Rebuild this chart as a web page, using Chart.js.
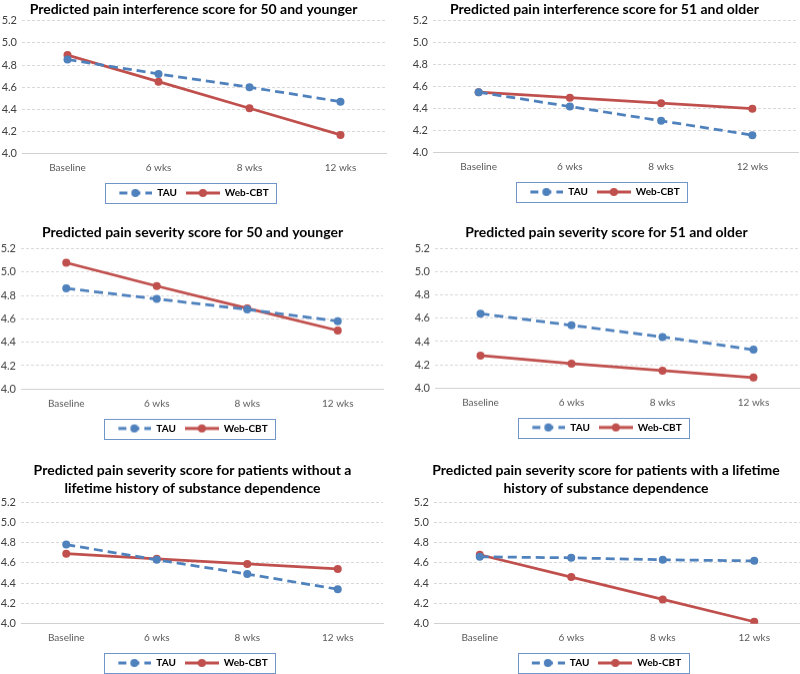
<!doctype html>
<html lang="en">
  <head>
    <title>Predicted pain scores</title>
    <meta charset="UTF-8" />
    <script src="https://cdn.jsdelivr.net/npm/chart.js"></script>
    <style>
      html,
      body {
        margin: 0;
        padding: 0;
        background: #fff;
        width: 800px;
        height: 674px;
        overflow: hidden;
        position: relative;
      }
      .panel {
        position: absolute;
      }
    </style>
  </head>
  <body>
    <div class="panel" style="left: 0px; top: 0px; width: 390px; height: 208px"><canvas id="c1"></canvas></div>
    <div class="panel" style="left: 411px; top: 0px; width: 392px; height: 207px"><canvas id="c2"></canvas></div>
    <div class="panel" style="left: -1.5px; top: 223px; width: 388px; height: 219.5px"><canvas id="c3"></canvas></div>
    <div class="panel" style="left: 413px; top: 223px; width: 390px; height: 218.5px"><canvas id="c4"></canvas></div>
    <div class="panel" style="left: -1.5px; top: 461px; width: 388px; height: 217px"><canvas id="c5"></canvas></div>
    <div class="panel" style="left: 412px; top: 461px; width: 392px; height: 217px"><canvas id="c6"></canvas></div>

    <script>
      // timepoints shared by all six panels
      const weeks = ['Baseline', '6 wks', '8 wks', '12 wks']
      const yTicks = [4.0, 4.2, 4.4, 4.6, 4.8, 5.0, 5.2]

      // values
      const tauInterfYoung = [4.85, 4.72, 4.6, 4.47]
      const webInterfYoung = [4.89, 4.65, 4.41, 4.17]
      const tauInterfOld = [4.55, 4.42, 4.29, 4.16]
      const webInterfOld = [4.55, 4.5, 4.45, 4.4]
      const tauSevYoung = [4.86, 4.77, 4.68, 4.58]
      const webSevYoung = [5.08, 4.88, 4.69, 4.5]
      const tauSevOld = [4.64, 4.54, 4.44, 4.33]
      const webSevOld = [4.28, 4.21, 4.15, 4.09]
      const tauNoHistory = [4.78, 4.63, 4.49, 4.34]
      const webNoHistory = [4.69, 4.64, 4.59, 4.54]
      const tauHistory = [4.66, 4.65, 4.63, 4.62]
      const webHistory = [4.68, 4.46, 4.24, 4.02]

      const blue = '#4f81bd'
      const red = '#c0504d'
      const fontFamily = 'Lato, "Open Sans", sans-serif'

      // little line + dot picture for the legend, like Excel does it
      function legendSwatch(color, dashed) {
        const c = document.createElement('canvas')
        c.width = 34
        c.height = 10
        const g = c.getContext('2d')
        g.strokeStyle = color
        g.lineWidth = 3
        if (dashed) g.setLineDash([8, 5])
        g.beginPath()
        g.moveTo(dashed ? 1 : 0, 5)
        g.lineTo(34, 5)
        g.stroke()
        g.setLineDash([])
        g.fillStyle = color
        g.beginPath()
        g.arc(17, 5, 4, 0, Math.PI * 2)
        g.fill()
        return c
      }
      const swatches = [legendSwatch(blue, true), legendSwatch(red, false)]

      // blue frame round the legend items
      const legendFrame = {
        id: 'legendFrame',
        afterDraw(chart) {
          const boxes = chart.legend && chart.legend.legendHitBoxes
          if (!boxes || !boxes.length) return
          const left = Math.min(...boxes.map((b) => b.left)) - 13
          const right = Math.max(...boxes.map((b) => b.left + b.width)) + 8
          const mid = boxes[0].top + boxes[0].height / 2
          const ctx = chart.ctx
          ctx.save()
          ctx.strokeStyle = '#6f95c9'
          ctx.lineWidth = 1
          ctx.strokeRect(Math.round(left) + 0.5, Math.round(mid - 10) + 0.5, Math.round(right - left), 20)
          ctx.restore()
        },
      }

      function makePanel(id, title, tau, web, titlePadBottom, padRight) {
        return new Chart(document.getElementById(id), {
          type: 'line',
          data: {
            labels: weeks,
            datasets: [
              {
                label: 'TAU',
                data: tau,
                borderColor: blue,
                backgroundColor: blue,
                borderWidth: 2.75,
                borderDash: [9, 5],
                pointRadius: 4,
                pointBorderWidth: 0,
                tension: 0,
              },
              {
                label: 'Web-CBT',
                data: web,
                borderColor: red,
                backgroundColor: red,
                borderWidth: 2.75,
                pointRadius: 4,
                pointBorderWidth: 0,
                tension: 0,
              },
            ],
          },
          options: {
            responsive: true,
            maintainAspectRatio: false,
            animation: false,
            layout: { padding: { left: 0, right: padRight, top: 0, bottom: 0 } },
            scales: {
              x: {
                offset: true,
                grid: { display: false, drawTicks: false },
                border: { display: true, color: '#d0d0d0', width: 1 },
                afterFit: (scale) => {
                  scale.height = 25.25
                },
                ticks: {
                  color: '#595959',
                  padding: 8.5,
                  font: { family: fontFamily, size: 10 },
                },
              },
              y: {
                min: 4.0,
                max: 5.2,
                afterBuildTicks: (scale) => {
                  scale.ticks = yTicks.map((v) => ({ value: v }))
                },
                afterFit: (scale) => {
                  scale.width = 22
                },
                grid: {
                  color: (c) => (c.tick && c.tick.value === 4.0 ? 'rgba(0,0,0,0)' : '#d9d9d9'),
                  drawTicks: false,
                },
                border: { display: false, dash: [3, 2] },
                ticks: {
                  color: '#404040',
                  padding: 5,
                  font: { family: fontFamily, size: 11 },
                  callback: (v) => Number(v).toFixed(1),
                },
              },
            },
            plugins: {
              title: {
                display: true,
                text: title,
                color: '#000',
                font: { family: fontFamily, size: 14, weight: 'bold', lineHeight: 1.3 },
                padding: { top: 0, bottom: titlePadBottom },
              },
              legend: {
                position: 'bottom',
                labels: {
                  usePointStyle: true,
                  pointStyleWidth: 34,
                  padding: 9,
                  color: '#000',
                  font: { family: fontFamily, size: 10, weight: 'bold' },
                  generateLabels: (chart) => {
                    const items = Chart.defaults.plugins.legend.labels.generateLabels(chart)
                    items.forEach((it, i) => {
                      it.pointStyle = swatches[i]
                    })
                    return items
                  },
                },
              },
              tooltip: { enabled: false },
            },
          },
          plugins: [legendFrame],
        })
      }

      makePanel('c1', 'Predicted pain interference score for 50 and younger', tauInterfYoung, webInterfYoung, 2.5, 3)
      makePanel('c2', 'Predicted pain interference score for 51 and older', tauInterfOld, webInterfOld, 2.5, 5)
      makePanel('c3', 'Predicted pain severity score for 50 and younger', tauSevYoung, webSevYoung, 7.3, 1)
      makePanel('c4', 'Predicted pain severity score for 51 and older', tauSevOld, webSevOld, 7.3, 3)
      makePanel(
        'c5',
        ['Predicted pain severity score for patients without a', 'lifetime history of substance dependence'],
        tauNoHistory,
        webNoHistory,
        4.6,
        1,
      )
      makePanel(
        'c6',
        ['Predicted pain severity score for patients with a lifetime', 'history of substance dependence'],
        tauHistory,
        webHistory,
        4.6,
        4,
      )
    </script>
  </body>
</html>
